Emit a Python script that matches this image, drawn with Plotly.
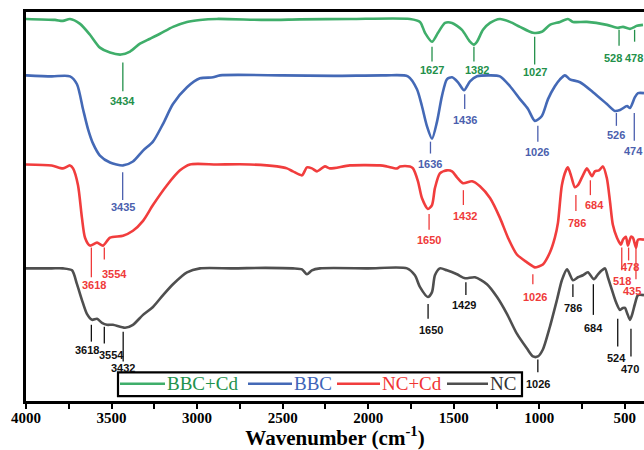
import plotly.graph_objects as go

# ---- FTIR spectra (transmittance, arbitrary units, stacked with offsets) ----
bbc_cd_wn = [4000, 3831, 3784, 3743, 3684, 3626, 3568, 3509, 3445, 3392,
             3334, 3275, 3217, 3141, 3059, 2983, 2884, 2600, 2400, 2100,
             1756, 1697, 1668, 1627, 1592, 1551, 1510, 1452, 1405, 1382,
             1364, 1329, 1288, 1230, 1171, 1113, 1037, 985, 938, 879,
             833, 803, 722, 605, 540, 511, 470, 429, 394]
bbc_cd_t = [386, 385, 384, 386, 381, 370, 357, 352, 350, 353,
            361, 366, 371, 378, 383, 385, 386, 385, 385.5, 386,
            386, 383, 372, 363, 372, 382, 382, 375, 363, 360,
            363, 375, 382, 386, 383, 378, 372, 373, 380, 383,
            386, 383, 383, 380, 377, 378, 376, 379, 380]

bbc_wn = [4000, 3850, 3743, 3702, 3667, 3638, 3608, 3568, 3509, 3433,
          3375, 3316, 3258, 3199, 3141, 3059, 2983, 2907, 2866, 2500,
          2200, 1900, 1768, 1715, 1686, 1657, 1627, 1598, 1569, 1540,
          1510, 1475, 1440, 1405, 1364, 1288, 1230, 1171, 1113, 1066,
          1026, 985, 949, 909, 879, 850, 821, 762, 686, 605,
          558, 528, 487, 470, 441, 423, 388]
bbc_t = [329, 328, 328, 320, 295, 275, 260, 248, 241, 238,
         242, 253, 262, 280, 300, 317, 326, 327, 329, 329,
         328.5, 329, 328, 315, 298, 278, 265, 282, 308, 325,
         327, 322, 314, 323, 328, 329, 328, 318, 305, 295,
         283, 288, 305, 318, 325, 329, 325, 322, 312, 300,
         293, 294, 298, 296, 307, 311, 311]

nc_cd_wn = [4000, 3850, 3784, 3743, 3725, 3696, 3673, 3655, 3626, 3585,
            3550, 3509, 3433, 3375, 3316, 3258, 3176, 3100, 3042, 2884,
            2691, 2533, 2475, 2440, 2387, 2358, 2329, 2299, 2253, 2224,
            2107, 1931, 1890, 1832, 1814, 1756, 1738, 1709, 1686, 1651,
            1627, 1610, 1581, 1540, 1510, 1481, 1446, 1393, 1347, 1288,
            1230, 1183, 1131, 1072, 1037, 1026, 979, 938, 909, 891,
            868, 844, 833, 815, 792, 774, 745, 722, 710, 692,
            675, 651, 628, 605, 587, 570, 546, 523, 511, 494,
            482, 464, 453, 435, 423, 388]
nc_cd_t = [239, 238, 235, 238, 235, 218, 185, 165, 157, 160,
           157, 165, 167, 172, 182, 198, 218, 233, 239, 239,
           239, 237, 235, 232, 228, 236, 235, 232, 237, 235,
           238, 238, 237, 235, 237, 237, 235, 222, 205, 194,
           198, 215, 230, 233, 232, 226, 220, 222, 217, 205,
           185, 165, 148, 140, 136, 135, 138, 150, 165, 180,
           218, 233, 236, 228, 216, 218, 228, 235, 232, 227,
           232, 233, 237, 225, 202, 178, 165, 158, 163, 166,
           157, 166, 165, 155, 163, 163]

nc_wn = [4000, 3850, 3784, 3731, 3702, 3673, 3644, 3614, 3585, 3556,
         3527, 3492, 3421, 3375, 3316, 3258, 3199, 3141, 3059, 2983,
         2790, 2600, 2440, 2387, 2358, 2329, 2282, 2000, 1773, 1727,
         1697, 1651, 1627, 1610, 1581, 1540, 1481, 1434, 1376, 1306,
         1247, 1189, 1131, 1072, 1037, 1008, 979, 938, 897, 868,
         838, 803, 774, 745, 716, 681, 657, 634, 616, 599,
         575, 552, 528, 511, 499, 487, 470, 458, 441, 423,
         388]
nc_t = [134, 134, 134, 132, 118, 102, 88, 82, 83, 79,
        77, 77, 74, 77, 87, 95, 107, 118, 130, 134,
        134, 134.5, 134, 133, 128, 132, 134, 134, 134, 127,
        115, 105, 110, 127, 134, 132, 128, 124, 125, 118,
        105, 88, 68, 53, 45, 45, 52, 75, 102, 122,
        133, 122, 125, 127, 130, 123, 128, 132, 134, 125,
        112, 100, 92, 94, 94, 89, 82, 87, 98, 107,
        107]

# ---- assigned band positions (cm-1) ----
bbc_cd_peaks = [3434, 1627, 1382, 1027, 528, 478]
bbc_peaks = [3435, 1636, 1436, 1026, 526, 474]
nc_cd_peaks = [3618, 3554, 1650, 1432, 1026, 786, 684, 518, 478, 435]
nc_peaks = [3618, 3554, 3432, 1650, 1429, 1026, 786, 684, 524, 470]

series_names = ["BBC+Cd", "BBC", "NC+Cd", "NC"]

# ---- styling / label placement ----
line_colors = ["#3fae6a", "#4469b6", "#f13d3d", "#4f4f4f"]
label_colors = ["#23904a", "#4b5fae", "#ef3a3a", "#111111"]

# per label: (tick top, tick bottom, text centre y, tick x-shift px, text x-shift px)
bbc_cd_place = [(342, 313, 303, 0, 0), (358, 343, 334, 0, 0), (358, 343, 334, 0, 3),
                (368, 340, 332, 0, 0), (375, 359, 347, -1, -7), (375, 363, 347, 6, 5)]
bbc_place = [(231, 203, 196, 0, 0), (262, 250, 239, 0, 0), (310, 295, 284, 0, 0),
             (278, 262, 252, 3, 2), (291, 278, 269, -4, -4), (291, 263, 253, 5, 4)]
nc_cd_place = [(155, 125, 117, 0, 3), (155, 143, 128, 2, 12), (189, 173, 163, 1, 1),
               (213, 198, 187, -2, 0), (128, 118, 105, -2, 0), (208, 192, 180, 0, 1),
               (223, 208, 198, -3, 1), (155, 132, 121, 0, 0), (155, 142, 135, 0, 1),
               (155, 123, 111, 0, -4)]
nc_place = [(77, 60, 52, 0, -4), (75, 58, 46, 2, 9), (70, 40, 33, 0, 0),
            (98, 83, 72, 0, 3), (120, 107, 97, 0, -2), (42, 29, 17, 3, 3),
            (118, 105, 94, -3, -3), (118, 87, 74, 0, 0), (83, 55, 43, -3, -4),
            (73, 45, 32, 1, 0)]

spectra = [(bbc_cd_wn, bbc_cd_t), (bbc_wn, bbc_t), (nc_cd_wn, nc_cd_t), (nc_wn, nc_t)]
peak_sets = [bbc_cd_peaks, bbc_peaks, nc_cd_peaks, nc_peaks]
placements = [bbc_cd_place, bbc_place, nc_cd_place, nc_place]

fig = go.Figure()
for (wn, t), name, col in zip(spectra, series_names, line_colors):
    fig.add_trace(go.Scatter(
        x=wn, y=t, name=name, mode="lines",
        line=dict(color=col, width=2.6, shape="spline", smoothing=0.7),
        showlegend=False,
    ))

shapes = []
annotations = []
for peaks, place, col in zip(peak_sets, placements, label_colors):
    for p, (y_top, y_bot, y_txt, dx_tick, dx_txt) in zip(peaks, place):
        shapes.append(dict(
            type="line", xref="x", yref="y", xsizemode="pixel", xanchor=p,
            x0=dx_tick, x1=dx_tick, y0=y_bot, y1=y_top,
            line=dict(color=col, width=1.3),
        ))
        annotations.append(dict(
            x=p, y=y_txt, xref="x", yref="y", text=str(p), showarrow=False,
            xanchor="center", yanchor="middle", xshift=dx_txt,
            font=dict(family="Liberation Sans", size=11, color=col, weight="bold"),
        ))

# ---- framed legend along the bottom ----
W_PLOT, H_PLOT, L_M, B_M = 618, 393, 26, 45


def px_x(px):
    return (px - L_M) / W_PLOT


def px_y(py):
    return (450 - B_M - py) / H_PLOT


shapes.append(dict(type="rect", xref="paper", yref="paper",
                   x0=px_x(118), x1=px_x(522), y0=px_y(400), y1=px_y(376),
                   line=dict(color="black", width=2.2), fillcolor="white", layer="above"))
legend_slots = [(120, 165), (248, 292), (337, 380), (447, 488)]
for (x0, x1), name, col, tcol in zip(legend_slots, series_names, line_colors,
                                     ["#22924c", "#4064b8", "#f03434", "#333333"]):
    shapes.append(dict(type="line", xref="paper", yref="paper",
                       x0=px_x(x0), x1=px_x(x1), y0=px_y(387.5), y1=px_y(387.5),
                       line=dict(color=col, width=2.6), layer="above"))
    annotations.append(dict(
        x=px_x(x1), y=px_y(387.5), xref="paper", yref="paper", text=name,
        showarrow=False, xanchor="left", yanchor="middle",
        font=dict(family="Liberation Serif", size=19, color=tcol),
    ))

fig.update_layout(
    width=644, height=450,
    margin=dict(l=L_M, r=0, t=12, b=B_M),
    paper_bgcolor="white", plot_bgcolor="white",
    shapes=shapes, annotations=annotations,
    xaxis=dict(
        range=[4000, 388], showgrid=False, zeroline=False,
        showline=True, linecolor="black", linewidth=2.6, mirror=True,
        tickmode="array", tickvals=[4000, 3500, 3000, 2500, 2000, 1500, 1000, 500],
        ticks="outside", ticklen=5, tickwidth=2, tickcolor="black",
        ticklabelstandoff=-4,
        minor=dict(ticks="outside", ticklen=5, tickwidth=2, tickcolor="black", dtick=250,
                   tick0=0, showgrid=False),
        tickfont=dict(family="Liberation Serif", size=15, color="black", weight="bold"),
        title=dict(text="Wavenumber (cm<sup>-1</sup>)", standoff=10,
                   font=dict(family="Liberation Serif", size=21, color="black", weight="bold")),
    ),
    yaxis=dict(
        range=[0, 393], showgrid=False, zeroline=False, showticklabels=False,
        ticks="", showline=True, linecolor="black", linewidth=2.6, mirror=False,
    ),
)

fig.write_html("out.html")
